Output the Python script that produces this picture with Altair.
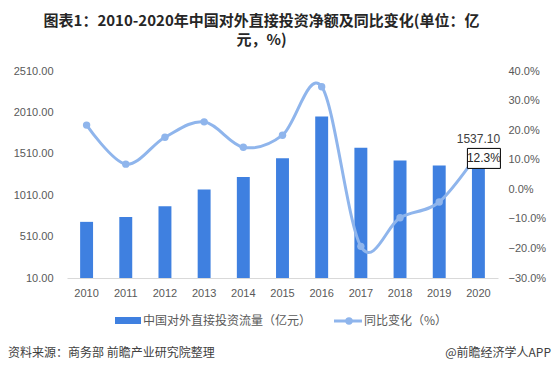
import altair as alt
import pandas as pd

years = ["2010", "2011", "2012", "2013", "2014", "2015", "2016", "2017", "2018", "2019", "2020"]
flows = [688.1, 746.5, 878.0, 1078.4, 1231.2, 1456.7, 1961.5, 1582.9, 1430.4, 1369.1, 1537.1]
growth = [21.7, 8.5, 17.6, 22.8, 14.2, 18.3, 34.7, -19.3, -9.6, -4.3, 12.3]
left_ticks = [10, 510, 1010, 1510, 2010, 2510]
right_ticks = [-30, -20, -10, 0, 10, 20, 30, 40]

title_lines = ["图表1：2010-2020年中国对外直接投资净额及同比变化(单位：亿", "元，%)"]
bar_name = "中国对外直接投资流量（亿元）"
line_name = "同比变化（%）"
source_text = "资料来源：商务部 前瞻产业研究院整理"
brand_text = "@前瞻经济学人APP"

BAR = "#3f80e0"
LINE = "#8fb5ec"
GREY = "#595959"
CJK = "Noto Sans CJK SC"

df = pd.DataFrame({"year": years, "value": flows, "growth": growth})
last = df[df["year"] == "2020"]

x_enc = alt.X(
    "year:N",
    scale=alt.Scale(paddingInner=0.67, paddingOuter=0.335),
    axis=alt.Axis(title=None, labelAngle=0, domainColor="#d9d9d9", ticks=False,
                  labelPadding=9, labelFontSize=11, labelColor=GREY,
                  labelFont="Liberation Sans"),
)

left_scale = alt.Scale(domain=[10, 2510], zero=False, nice=False)
right_scale = alt.Scale(domain=[-30, 40], nice=False)
left_axis = alt.Axis(title=None, values=left_ticks, format=".2f", domain=False,
                     ticks=False, grid=False, labelPadding=14, labelFontSize=11,
                     labelColor=GREY, labelFont="Liberation Sans", labelOverlap=False)
right_axis = alt.Axis(title=None, orient="right", values=right_ticks,
                      labelExpr="format(datum.value, '.1f') + '%'", domain=False,
                      ticks=False, grid=False, labelPadding=10, labelFontSize=11,
                      labelColor=GREY, labelFont="Liberation Sans", labelOverlap=False)

y_left = alt.Y("value:Q", scale=left_scale, axis=left_axis)
y_right = alt.Y("growth:Q", scale=right_scale, axis=right_axis)

bars = alt.Chart(df).mark_bar(color=BAR).encode(x=x_enc, y=y_left, y2=alt.datum(10))
bar_label = alt.Chart(last).mark_text(dy=-13, fontSize=12, color="#404040",
                                      font="Liberation Sans").encode(
    x=x_enc, y=y_left, text=alt.Text("value:Q", format=".2f"))

left = alt.layer(bars, bar_label)

line = alt.Chart(df).mark_line(interpolate="cardinal", color=LINE, strokeWidth=3).encode(
    x=x_enc, y=y_right)
points = alt.Chart(df).mark_point(filled=True, color=LINE, size=55, opacity=1).encode(
    x=x_enc, y=y_right)
box = alt.Chart(last).mark_point(shape="M-1.65,-1H1.65V1H-1.65Z", size=400, filled=True,
                                 fill="white", stroke="black", strokeWidth=1, opacity=1,
                                 xOffset=5.5, yOffset=5.5).encode(x=x_enc, y=y_right)
box_text = alt.Chart(last).transform_calculate(
    lab="format(datum.growth, '.1f') + '%'"
).mark_text(dx=5.5, dy=5.5, fontSize=12, color="#262626", font="Liberation Sans").encode(
    x=x_enc, y=y_right, text="lab:N")

right = alt.layer(line, points, box, box_text)

one = pd.DataFrame({"k": [0]})
leg_bar = alt.Chart(one).mark_rect(color=BAR).encode(
    x=alt.value(48), x2=alt.value(74), y=alt.value(246), y2=alt.value(253))
leg_text1 = alt.Chart(one).mark_text(align="left", baseline="middle", fontSize=12,
                                     color=GREY, font=CJK, text=bar_name).encode(
    x=alt.value(76), y=alt.value(250))
leg_line = alt.Chart(one).mark_rule(color=LINE, strokeWidth=3).encode(
    x=alt.value(267), x2=alt.value(295), y=alt.value(250))
leg_dot = alt.Chart(one).mark_point(filled=True, color=LINE, size=55, opacity=1).encode(
    x=alt.value(282), y=alt.value(250))
leg_text2 = alt.Chart(one).mark_text(align="left", baseline="middle", fontSize=12,
                                     color=GREY, font=CJK, text=line_name).encode(
    x=alt.value(297), y=alt.value(250))
src = alt.Chart(one).mark_text(align="left", baseline="middle", fontSize=12,
                               color="#404040", font=CJK, text=source_text).encode(
    x=alt.value(-59), y=alt.value(282))
brand = alt.Chart(one).mark_text(align="right", baseline="middle", fontSize=12,
                                 color="#404040", font=CJK, text=brand_text).encode(
    x=alt.value(484), y=alt.value(282))

chart = alt.layer(
    left, right, leg_bar, leg_text1, leg_line, leg_dot, leg_text2, src, brand
).resolve_scale(y="independent").properties(
    width=431,
    height=207,
    autosize=alt.AutoSizeParams(type="none"),
    padding={"left": 59, "top": 63, "right": 53, "bottom": 96},
    title=alt.TitleParams(text=title_lines, fontSize=15, fontWeight="bold", font=CJK,
                          color="#262626", anchor="middle", dx=-21, offset=17,
                          lineHeight=19),
).configure_view(stroke=None)

chart.save("out.html", embed_options={"renderer": "svg", "actions": False})
